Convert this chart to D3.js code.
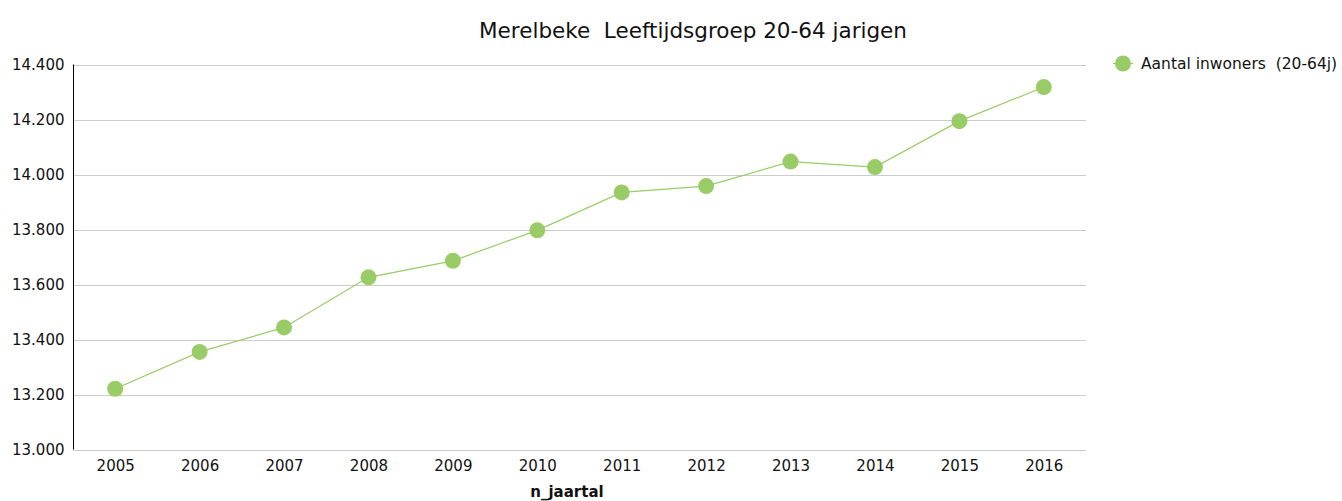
<!DOCTYPE html>
<html>
<head>
<meta charset="utf-8">
<script src="https://cdn.jsdelivr.net/npm/d3@7"></script>
<style>
  html, body { margin: 0; padding: 0; background: #fff; }
  svg text { font-family: "DejaVu Sans", Verdana, sans-serif; fill: #111; white-space: pre; }
</style>
</head>
<body>
<svg id="chart" width="1342" height="501"></svg>
<script>
const years = ["2005","2006","2007","2008","2009","2010","2011","2012","2013","2014","2015","2016"];
const inwoners = [13221, 13355, 13444, 13626, 13686, 13797, 13935, 13958, 14047, 14027, 14194, 14318];
const yTicks = [13000, 13200, 13400, 13600, 13800, 14000, 14200, 14400];
const title = "Merelbeke  Leeftijdsgroep 20-64 jarigen";
const seriesName = "Aantal inwoners  (20-64j)";
const xTitle = "n_jaartal";

const green = "#99cc66";
const FONT = "DejaVu Sans";
const svg = d3.select("#chart");
const m = {left: 73, right: 1086, top: 64.5, bottom: 449.5};

const x = d3.scalePoint().domain(years).range([m.left, m.right]).padding(0.5);
const y = d3.scaleLinear().domain([13000, 14400]).range([m.bottom, m.top]);
const fmt = v => d3.format(",")(v).replace(/,/g, ".");

// gridlines
svg.append("g").selectAll("line").data(yTicks).join("line")
  .attr("x1", m.left).attr("x2", m.right)
  .attr("y1", d => Math.round(y(d)) + 0.5).attr("y2", d => Math.round(y(d)) + 0.5)
  .attr("stroke", "#cccccc").attr("stroke-width", 1);

// y axis
const yAxis = svg.append("g").attr("transform", `translate(${m.left + 0.5},0)`)
  .call(d3.axisLeft(y).tickValues(yTicks).tickFormat(fmt).tickSize(0).tickPadding(9));
yAxis.select(".domain").attr("stroke", "#000").attr("d", `M0,${m.top}V${m.bottom}`);
yAxis.selectAll("text").attr("font-size", 15).attr("dy", "0.35em").style("font-family", FONT);

// x axis
const xAxis = svg.append("g").attr("transform", `translate(0,${m.bottom})`)
  .call(d3.axisBottom(x).tickSize(0).tickPadding(11));
xAxis.select(".domain").remove();
xAxis.selectAll("text").attr("font-size", 15).style("font-family", FONT);

// line
svg.append("path").datum(years.map((yr, i) => [yr, inwoners[i]]))
  .attr("fill", "none").attr("stroke", green).attr("stroke-width", 1.2)
  .attr("d", d3.line().x(d => x(d[0])).y(d => y(d[1])));

// points
svg.append("g").selectAll("circle").data(years.map((yr, i) => [yr, inwoners[i]])).join("circle")
  .attr("cx", d => x(d[0])).attr("cy", d => y(d[1])).attr("r", 8).attr("fill", green);

// title
svg.append("text").attr("x", 693).attr("y", 38).attr("text-anchor", "middle")
  .attr("font-size", 21.5).style("font-family", FONT).text(title);

// x title
svg.append("text").attr("x", 567).attr("y", 497).attr("text-anchor", "middle")
  .attr("font-size", 15).attr("font-weight", "bold").style("font-family", FONT).text(xTitle);

// legend
const lg = svg.append("g");
lg.append("line").attr("x1", 1113).attr("x2", 1133).attr("y1", 63.5).attr("y2", 63.5)
  .attr("stroke", green).attr("stroke-width", 1.2);
lg.append("circle").attr("cx", 1123).attr("cy", 63.5).attr("r", 8).attr("fill", green);
lg.append("text").attr("x", 1141).attr("y", 63.5).attr("dy", "0.35em")
  .attr("font-size", 15.5).style("font-family", FONT).text(seriesName);
</script>
</body>
</html>
